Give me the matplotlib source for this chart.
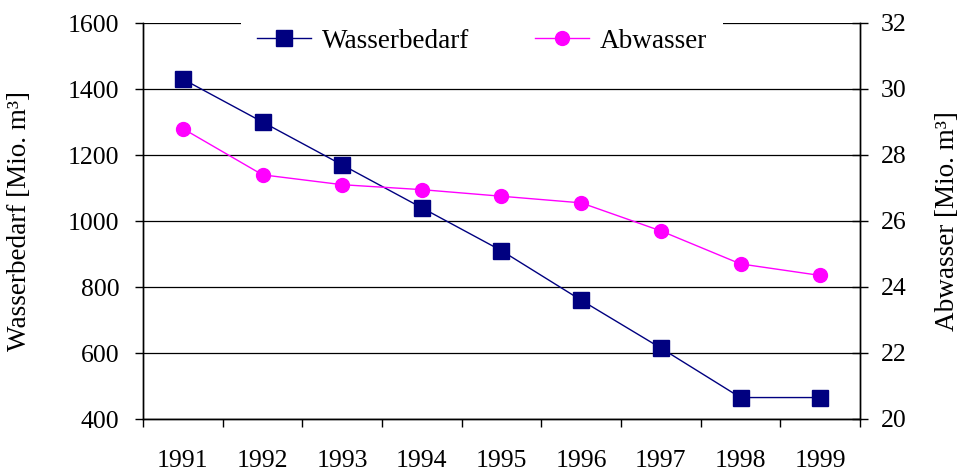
import matplotlib
matplotlib.use("Agg")
import matplotlib.pyplot as plt
import numpy as np

plt.rcParams['font.family'] = ['Liberation Serif', 'DejaVu Serif']

years = ['1991', '1992', '1993', '1994', '1995', '1996', '1997', '1998', '1999']
wasserbedarf = [1430, 1300, 1170, 1040, 910, 760, 615, 465, 465]
abwasser = [28.8, 27.4, 27.1, 26.95, 26.75, 26.55, 25.7, 24.7, 24.35]

fig = plt.figure(figsize=(9.61, 4.71), dpi=100)
ax = fig.add_axes([143/961, 1 - 419/471, 717/961, 396/471])
ax2 = ax.twinx()

x = np.arange(len(years))

l1, = ax.plot(x, wasserbedarf, color='#000080', lw=1.0, marker='s', ms=12,
              markeredgecolor='#000080', label='Wasserbedarf', clip_on=False)
l2, = ax2.plot(x, abwasser, color='#ff00ff', lw=1.0, marker='o', ms=10,
               markeredgecolor='#ff00ff', label='Abwasser', clip_on=False)

ax.set_xlim(-0.5, len(years) - 0.5)
ax.set_ylim(400, 1600)
ax.set_yticks(np.arange(400, 1601, 200))
ax2.set_ylim(20, 32)
ax2.set_yticks(np.arange(20, 33, 2))

# category boundaries as major ticks, labels centred on the minor ticks
ax.set_xticks(np.arange(-0.5, len(years), 1.0))
ax.set_xticklabels([])
ax.set_xticks(x, minor=True)
ax.set_xticklabels(years, minor=True)
ax.tick_params(axis='x', which='major', direction='out', length=6, width=1, color='black')
ax.tick_params(axis='x', which='minor', length=0, pad=22, labelsize=18.5)
ax.tick_params(axis='y', direction='out', length=6, width=1, pad=11, labelsize=18.5)
ax2.tick_params(axis='y', direction='inout', length=12, width=1, pad=9, labelsize=18.5)

ax.yaxis.grid(True, color='black', lw=0.9)
ax.set_axisbelow(True)
for a in (ax, ax2):
    a.spines['top'].set_visible(False)
    for s in ('left', 'right', 'bottom'):
        a.spines[s].set_linewidth(1.0)
        a.spines[s].set_color('black')

fig.text(20/961, 1 - 221/471, 'Wasserbedarf [Mio. m³]', rotation=90,
         ha='center', va='center', fontsize=19.5)
fig.text(947/961, 1 - 221/471, 'Abwasser [Mio. m³]', rotation=90,
         ha='center', va='center', fontsize=19.5)

leg = ax2.legend(handles=[l1, l2], loc='center', ncol=2,
                 bbox_to_anchor=(482/961, 1 - 41/471), bbox_transform=fig.transFigure,
                 fontsize=19.5, frameon=True, fancybox=False, framealpha=1,
                 facecolor='white', edgecolor='none', handlelength=2.0,
                 handletextpad=0.4, columnspacing=2.4, borderpad=0.6,
                 borderaxespad=0)

fig.savefig('out.png', dpi=100)
